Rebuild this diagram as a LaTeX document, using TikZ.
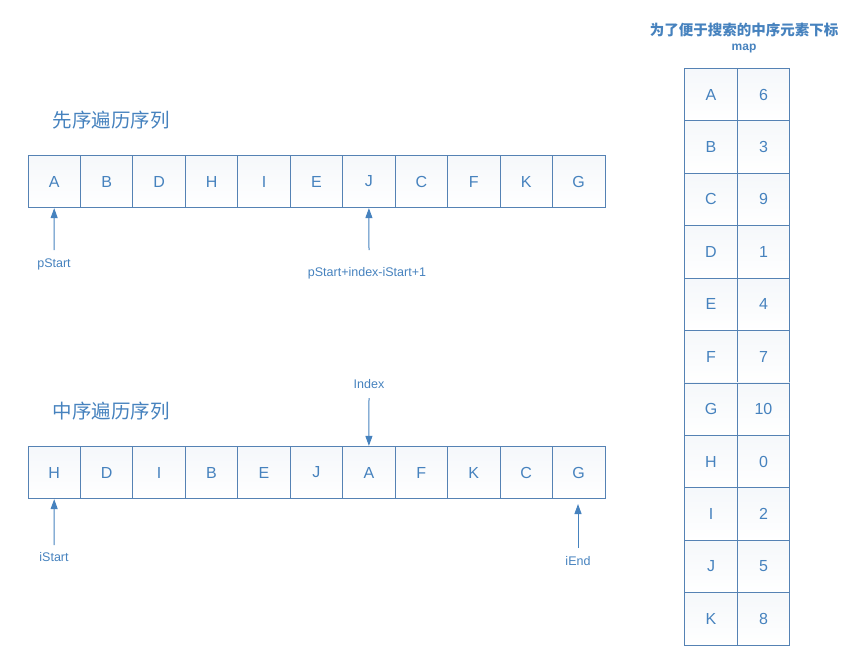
\documentclass[tikz,border=0pt]{standalone}
\usepackage{fontspec}
\setmainfont{Liberation Sans}
\newfontfamily\cjk{Noto Sans CJK SC}
\usetikzlibrary{arrows.meta}
\definecolor{tc}{RGB}{70,130,190}
\definecolor{bc}{RGB}{85,130,180}
\begin{document}
\begin{tikzpicture}[x=1pt,y=-1pt,
  cell/.style={draw=bc,line width=0.8pt,top color=bc!6,bottom color=white,minimum width=52.45pt,minimum height=52.45pt,inner sep=0pt,text=tc,font=\fontsize{16}{18}\selectfont},
  lbl/.style={text=tc,font=\fontsize{12.5}{14}\selectfont},
  ttl/.style={text=tc,font=\cjk\fontsize{19.5}{21}\selectfont},
  arr/.style={draw=tc,line width=1pt,-{Triangle[length=10pt,width=7pt]}}]
\useasboundingbox (0,0) rectangle (859,653);
\foreach \l [count=\i from 0] in {A,B,D,H,I,E,J,C,F,K,G}
  \node[cell] (p\i) at (54.2+52.45*\i,181.5) {\l};
\foreach \l [count=\i from 0] in {H,D,I,B,E,J,A,F,K,C,G}
  \node[cell] (m\i) at (54.2+52.45*\i,472.5) {\l};
\foreach \l/\v [count=\i from 0] in {A/6,B/3,C/9,D/1,E/4,F/7,G/10,H/0,I/2,J/5,K/8}{
  \node[cell] (k\i) at (711,94.5+52.45*\i) {\l};
  \node[cell] (v\i) at (763.45,94.5+52.45*\i) {\v};}
\node[ttl,anchor=west] (t1) at (49,120) {先序遍历序列};
\node[ttl,anchor=west] (t2) at (49,411) {中序遍历序列};
\node[text=tc,font=\cjk\bfseries\fontsize{14.5}{16}\selectfont] (t3) at (744,30) {为了便于搜索的中序元素下标};
\node[lbl,font=\bfseries\fontsize{12}{14}\selectfont] (t4) at (744,49) {map};
\node[lbl] (ps) at (54,264) {pStart};
\node[lbl] (pj) at (367,273) {pStart+index-iStart+1};
\node[lbl] (ix) at (369,384) {Index};
\node[lbl] (is) at (54,557) {iStart};
\node[lbl] (ie) at (578,561) {iEnd};
\draw[arr] (54,250) -- (p0.south);
\draw[arr] (369,250) -- (p6.south);
\draw[arr] (369,398) -- (m6.north);
\draw[arr] (54,545) -- (m0.south);
\draw[arr] (578,548) -- (578,504);
\end{tikzpicture}
\end{document}
